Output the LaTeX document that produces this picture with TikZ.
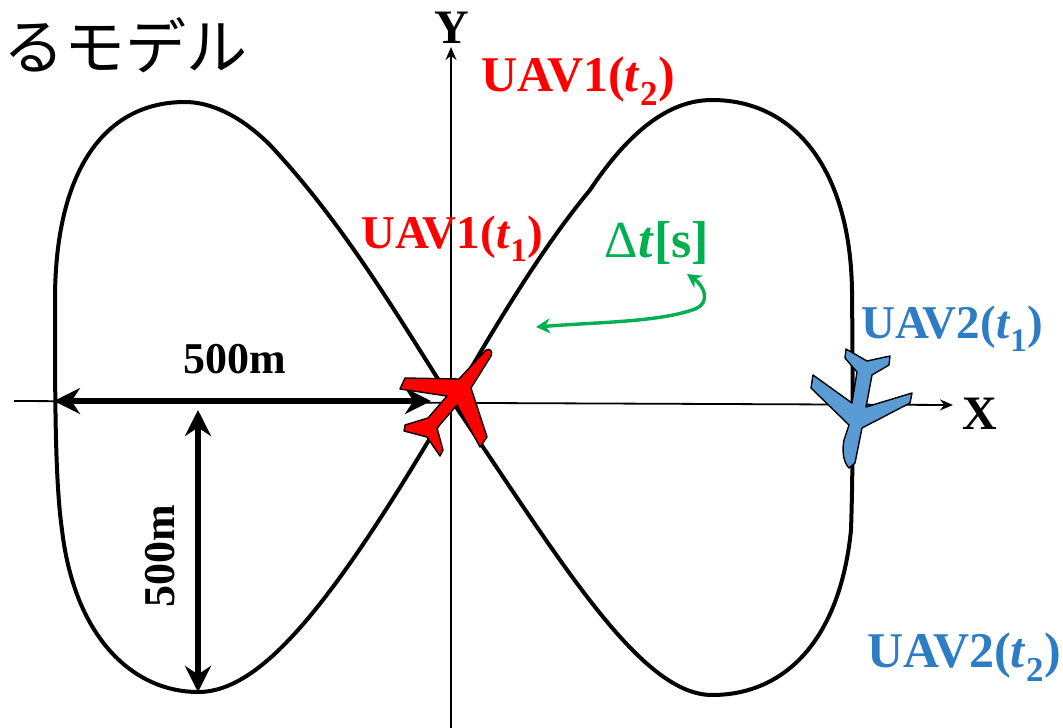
\documentclass[tikz,border=0pt]{standalone}
\usepackage{fontspec}
\setmainfont{Liberation Serif}
\newfontfamily\cjk{Noto Sans CJK JP}
\usetikzlibrary{arrows.meta,positioning,calc}
\definecolor{PlaneRed}{HTML}{FF0000}
\definecolor{PlaneBlue}{HTML}{5B9BD5}
\definecolor{LabelBlue}{HTML}{2E7CC4}
\definecolor{DeltaGreen}{HTML}{00B050}
\newcommand{\uavlab}[2]{UAV#1(\textit{t}\textsubscript{#2})}
\tikzset{>=Stealth,
 lab/.style={font=\fontsize{47}{47}\selectfont\bfseries,inner sep=0pt},
 labbig/.style={font=\fontsize{50}{50}\selectfont\bfseries,inner sep=0pt},
 dim/.style={font=\fontsize{44}{44}\selectfont\bfseries,inner sep=0pt},
 axis/.style={draw=black,line width=1.8pt,-{Stealth[length=13pt,width=11pt]}},
 track/.style={draw=black,line width=4pt,line join=round},
 span/.style={draw=black,line width=6pt,{Stealth[length=26pt,width=26pt]}-{Stealth[length=26pt,width=26pt]}},
 plane/.style={draw=black,line width=1.4pt,line join=round}}
\begin{document}
\begin{tikzpicture}[x=1pt,y=-1pt]
\useasboundingbox (0,0) rectangle (1063,728);
\coordinate (xs) at (14,401);\coordinate (xe) at (953,405);
\coordinate (ys) at (451,728);\coordinate (ye) at (451,47);
\coordinate (o) at (452,401);
\draw[axis] (xs)--(xe);
\draw[axis] (ys)--(ye);
% figure of eight
\draw[track] (o) .. controls (400,320) and (345,225) .. (270,145)
 .. controls (240,115) and (210,102) .. (185,102)
 .. controls (105,102) and (55,170) .. (55,300)
 .. controls (55,400) and (55,480) .. (62,530)
 .. controls (75,640) and (135,692) .. (198,692)
 .. controls (260,692) and (330,610) .. (o);
\draw[track] (o) .. controls (490,335) and (540,250) .. (590,190)
 .. controls (630,130) and (670,100) .. (712,100)
 .. controls (795,100) and (850,170) .. (852,290)
 .. controls (853,400) and (853,470) .. (851,530)
 .. controls (840,640) and (785,695) .. (712,695)
 .. controls (640,695) and (560,560) .. (o);
% dimension arrows
\draw[span] (54,401)--(431,401);
\draw[span] (198,410)--(198,692);
\node[dim] (wlab) at (235,359) {500m};
\node[dim,rotate=90] (hlab) at (160,556) {500m};
\node[font=\fontsize{48}{48}\selectfont\bfseries,inner sep=0pt] (xlab) at (980,414) {X};
\node[font=\fontsize{48}{48}\selectfont\bfseries,inner sep=0pt] (ylab) at (452,28) {Y};
\node[font=\fontsize{61}{61}\selectfont\cjk,inner sep=0pt] (title) at (126,45) {るモデル};
% planes
\draw[plane,fill=PlaneRed] (486,350) .. controls (490,348) and (493,351) .. (491,356)
 -- (471,388) -- (487,437) -- (480,447) -- (457,405) -- (437,428) -- (443,450) -- (440,456)
 -- (427,437) -- (404,431) -- (405,425) -- (428,418) -- (447,396) -- (400,389) -- (405,378)
 -- (459,379) -- cycle;
\draw[plane,fill=PlaneBlue] (849,468) .. controls (843,462) and (842,450) .. (844,440)
 -- (849,425) -- (811,388) -- (813,375) -- (852,403) -- (857,372) -- (845,358) -- (846,349)
 -- (867,361) -- (890,356) -- (889,365) -- (872,375) -- (866,407) -- (912,393) -- (910,403)
 -- (862,428) -- (855,463) -- cycle;
% labels
\node[labbig,text=PlaneRed] (uavat) at (578,81) {\uavlab{1}{2}};
\node[lab,text=PlaneRed] (uavab) at (452,239) {\uavlab{1}{1}};
\node[lab,text=LabelBlue] (uavbt) at (952,329) {\uavlab{2}{1}};
\node[labbig,text=LabelBlue] (uavbb) at (964,657) {\uavlab{2}{2}};
\node[font=\fontsize{52}{52}\selectfont\bfseries,text=DeltaGreen,inner sep=0pt] (dt) at (657,243) {{\mdseries Δ}\textit{t}[s]};
\coordinate (dta) at (687,274);\coordinate (dtb) at (536,327);
\draw[DeltaGreen,line width=3.4pt,{Stealth[length=14pt,width=15pt]}-{Stealth[length=14pt,width=15pt]}] (dta)
 .. controls (703,285) and (712,302) .. (695,309) .. controls (660,322) and (600,322) .. (dtb);
\end{tikzpicture}
\end{document}
